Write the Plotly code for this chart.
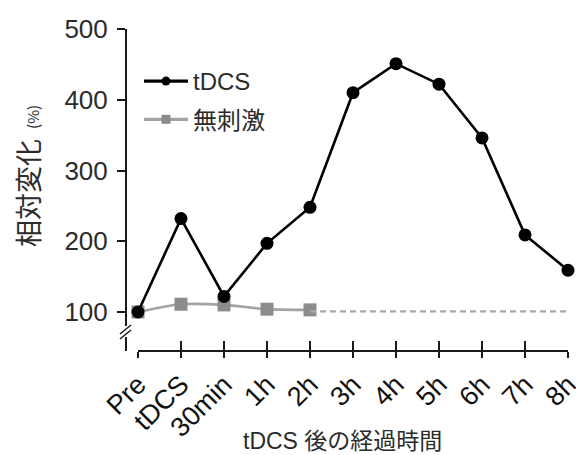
import plotly.graph_objects as go

categories = ["Pre", "tDCS", "30min", "1h", "2h", "3h", "4h", "5h", "6h", "7h", "8h"]
tdcs_values = [100, 232, 122, 197, 248, 410, 451, 422, 346, 209, 159]
sham_values = [100, 111, 110, 104, 103]
baseline_values = [101, 101, 101, 101, 101, 101, 101]
y_ticks = [100, 200, 300, 400, 500]

xi = list(range(len(categories)))
FONT = "Liberation Sans, Arial, Noto Sans CJK JP"
AX = "#1a1a1a"
TXT = "#2b2b2b"

# the page body has an 8px margin; all pixel targets below are in screen px
OFF = 8
W, H = 584 - OFF, 455 - OFF
AXIS_X, AXIS_Y = 126, 351          # screen px of y-axis line and x-axis line
X_LEFT, X_RIGHT = 138, 568         # screen px of first/last category
Y500, Y100 = 29, 312               # screen px of 500 / 100
Y_AX_END = 326                     # bottom end of upper y-axis segment

L = AXIS_X - OFF
T = Y500 - OFF
R = W - (X_RIGHT - OFF)
B = H - (AXIS_Y - OFF)
pw, ph = W - L - R, H - T - B


def px(x):
    return (x - AXIS_X) / pw


def py(y):
    return (AXIS_Y - y) / ph


xd0 = px(X_LEFT)
yd0 = py(Y_AX_END)
ppu = (Y100 - Y500) / 400.0
ymin = 100 - (Y_AX_END - Y100) / ppu

fig = go.Figure()
fig.add_trace(go.Scatter(
    x=xi[4:], y=baseline_values, xaxis="x2", yaxis="y", mode="lines",
    line=dict(color="#a8a8a8", width=2.2, dash="6px,4px"),
    showlegend=False, cliponaxis=False, hoverinfo="skip"))
fig.add_trace(go.Scatter(
    x=xi[:5], y=sham_values, mode="lines+markers", name="無刺激",
    line=dict(color="#a3a3a3", width=2.6, shape="spline", smoothing=0.8),
    marker=dict(symbol="square", size=13, color="#8c8c8c"),
    showlegend=False, cliponaxis=False))
fig.add_trace(go.Scatter(
    x=xi, y=tdcs_values, mode="lines+markers", name="tDCS",
    line=dict(color="#000000", width=2.6),
    marker=dict(symbol="circle", size=13, color="#000000"),
    showlegend=False, cliponaxis=False))
# legend entries (smaller legend symbols, as in the reference)
fig.add_trace(go.Scatter(
    x=[None], y=[None], mode="lines+markers", name="tDCS",
    line=dict(color="#000000", width=3.2),
    marker=dict(symbol="circle", size=9, color="#000000"),
    legendgroup="a", legendrank=1))
fig.add_trace(go.Scatter(
    x=[None], y=[None], mode="lines+markers", name="無刺激",
    line=dict(color="#a3a3a3", width=3.2),
    marker=dict(symbol="square", size=9, color="#8c8c8c"),
    legendgroup="b", legendrank=2))

fig.update_layout(
    width=W, height=H,
    margin=dict(l=L, r=R, t=T, b=B, autoexpand=False),
    plot_bgcolor="white", paper_bgcolor="white",
    font=dict(family=FONT, size=22, color=TXT),
    xaxis=dict(domain=[xd0, 1], range=[0, 10], anchor="free", position=0,
               tickmode="array", tickvals=xi, ticktext=categories, tickangle=-45,
               ticks="outside", ticklen=6, tickwidth=2, tickcolor=AX,
               showline=True, linecolor=AX, linewidth=2, showgrid=False, zeroline=False,
               tickfont=dict(size=27, family=FONT, color="#111111")),
    xaxis2=dict(domain=[xd0, 1], range=[0, 10], anchor="free", position=0, overlaying="x",
                tickmode="array", tickvals=xi, showticklabels=False,
                ticks="inside", ticklen=10, tickwidth=2, tickcolor=AX,
                showline=False, showgrid=False, zeroline=False),
    yaxis=dict(domain=[yd0, 1], range=[ymin, 500], anchor="free", position=0,
               tickmode="array", tickvals=y_ticks, ticks="outside", ticklen=8,
               tickwidth=2, tickcolor=AX, showline=True, linecolor=AX, linewidth=2,
               showgrid=False, zeroline=False, ticklabelstandoff=4,
               tickfont=dict(size=26, family=FONT, color=TXT)),
    legend=dict(x=px(139), y=py(59), xanchor="left", yanchor="top",
                traceorder="grouped", tracegroupgap=4,
                font=dict(size=24, family=FONT, color=TXT), bgcolor="rgba(0,0,0,0)",
                itemwidth=44),
    showlegend=True,
    annotations=[
        dict(text="相対変化<span style='font-size:15px'>&nbsp;&nbsp;&nbsp;(%)</span>",
             xref="paper", yref="paper",
             x=px(27), y=py(176), textangle=-90, showarrow=False,
             font=dict(size=27, family="Noto Sans CJK JP", color=TXT),
             xanchor="center", yanchor="middle"),
        dict(text="tDCS 後の経過時間", xref="paper", yref="paper",
             x=px(342), y=py(441), showarrow=False,
             font=dict(size=23, family="Liberation Sans, Noto Sans CJK JP", color=TXT),
             xanchor="center", yanchor="middle"),
    ],
    shapes=[
        dict(type="line", xref="paper", yref="paper", x0=0, x1=0,
             y0=0, y1=py(337), line=dict(color=AX, width=2)),
        dict(type="line", xref="paper", yref="paper",
             x0=px(120), x1=px(131), y0=py(334), y1=py(325), line=dict(color=AX, width=1.5)),
        dict(type="line", xref="paper", yref="paper",
             x0=px(120), x1=px(131), y0=py(339), y1=py(330), line=dict(color=AX, width=1.5)),
    ],
)

fig.write_html("out.html")
